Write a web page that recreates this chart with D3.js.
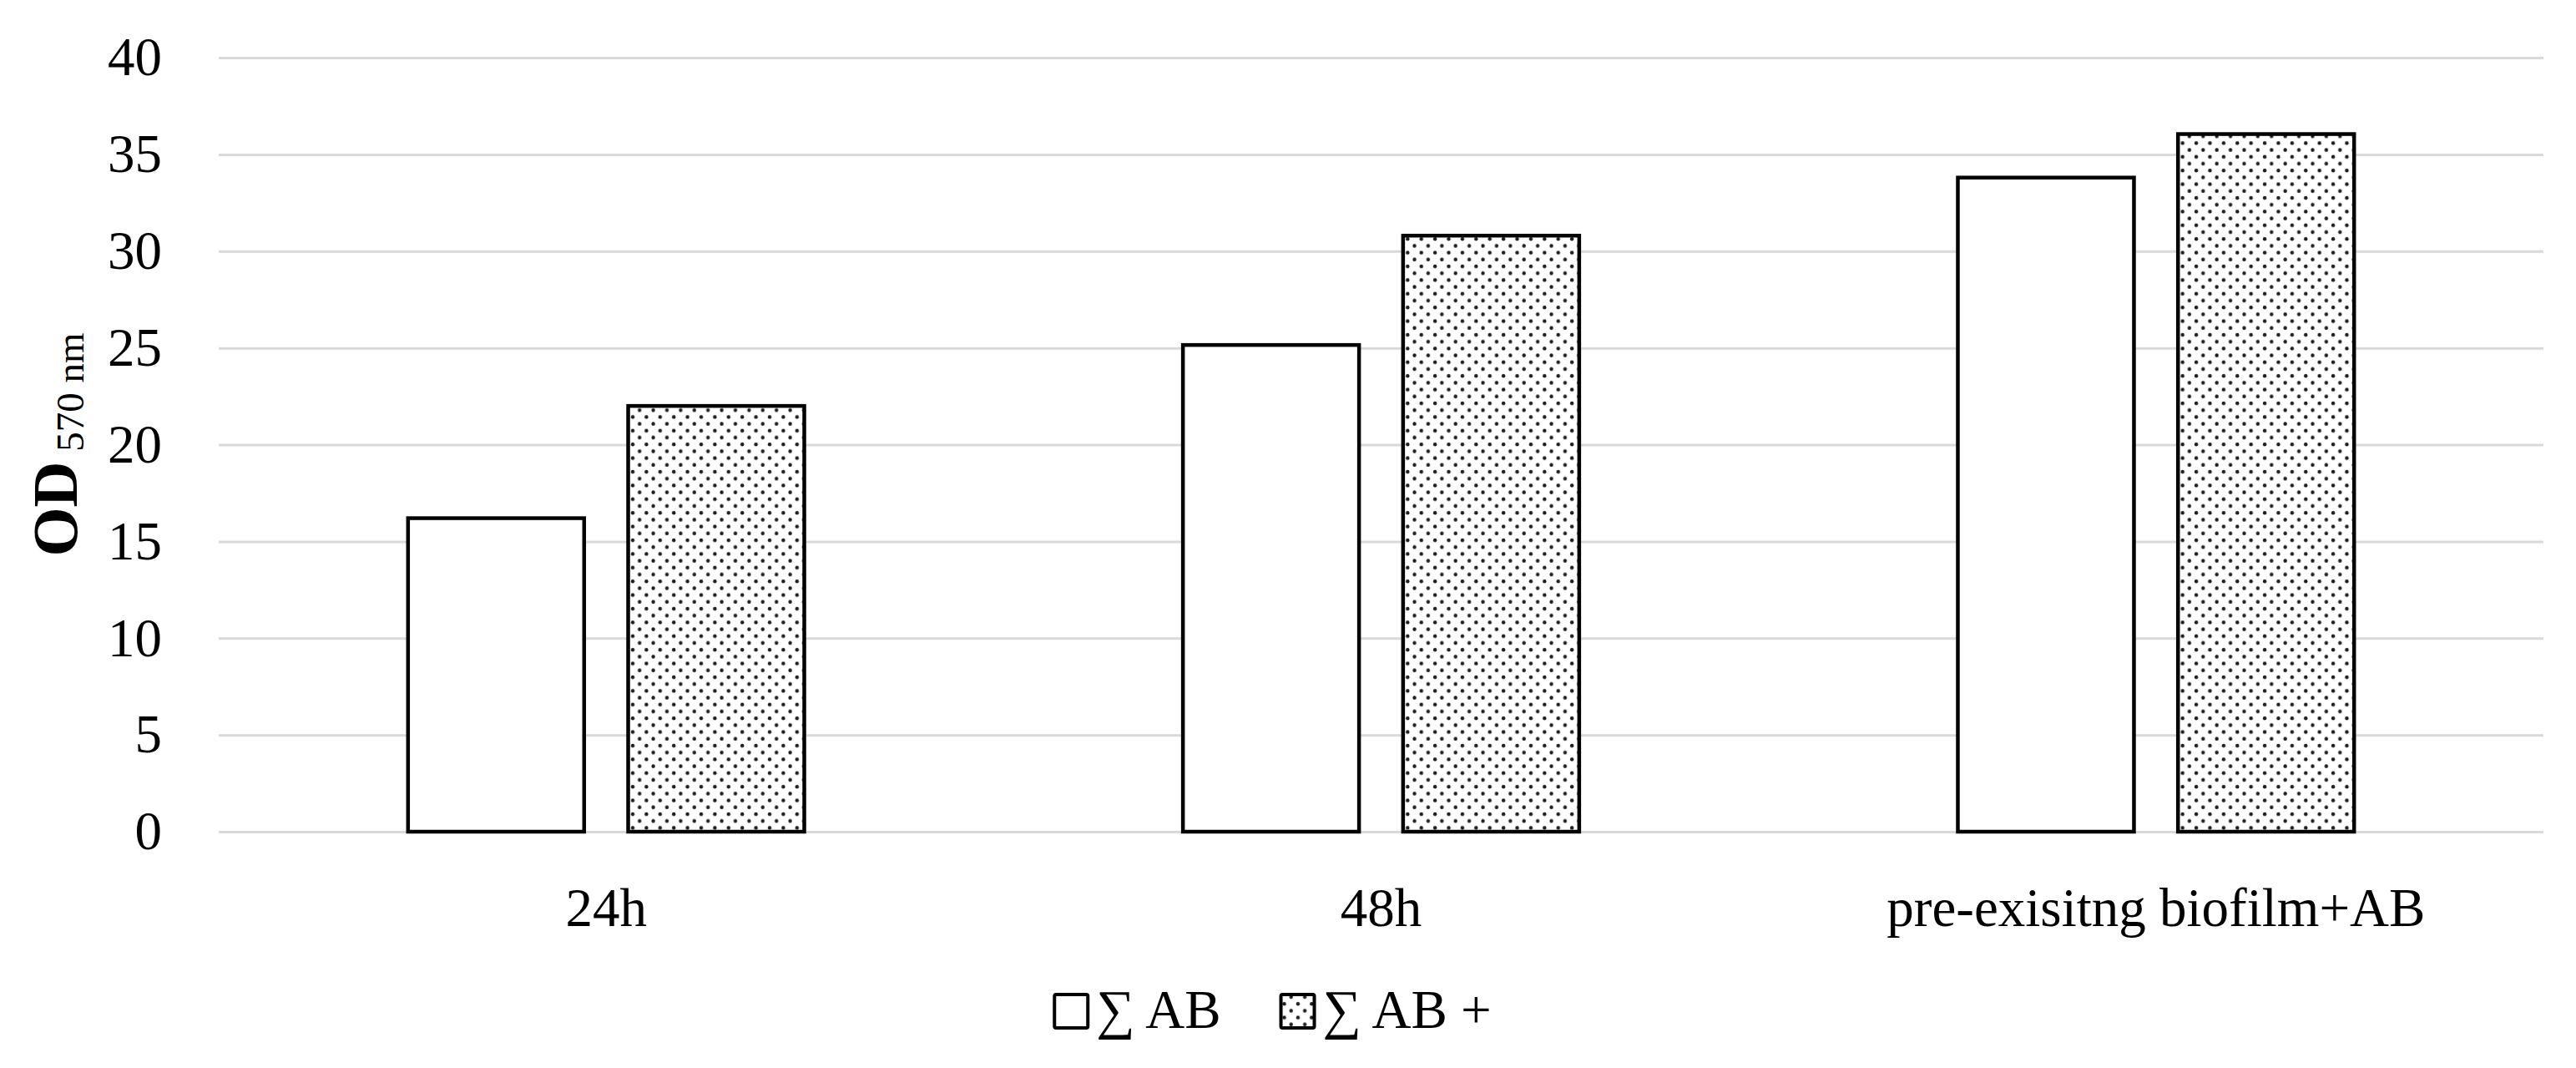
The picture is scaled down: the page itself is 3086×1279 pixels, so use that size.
<!DOCTYPE html>
<html>
<head>
<meta charset="utf-8">
<script src="https://cdn.jsdelivr.net/npm/d3@7"></script>
<style>
	body { margin: 0; background: #fff; }
	svg text { font-family: "Palatino Linotype", "Book Antiqua", Palatino, "Liberation Serif", serif; fill: #000; }
	.tick line { stroke: #d9d9d9; stroke-width: 3px; }
	.domain { display: none; }
</style>
</head>
<body>
<div id="graphic"></div>
<script>
// chart values
const categories = ['24h', '48h', 'pre-exisitng biofilm+AB'];
const seriesNames = ['∑ AB', '∑ AB +'];
const sumAB = [16.2, 25.15, 33.8];
const sumABplus = [22.0, 30.8, 36.05];
const yTicks = [0, 5, 10, 15, 20, 25, 30, 35, 40];
const yDomain = [0, 40];

let width = 3086, height = 1279;
let margin = { top: 69, right: 39, bottom: 283, left: 262 };
let chartWidth = width - margin.left - margin.right;
let chartHeight = height - margin.top - margin.bottom;
let fontSize = 65;

let graphicData = categories.map((c, i) => ({ name: c, values: [sumAB[i], sumABplus[i]] }));

let svg = d3.select('#graphic')
	.append('svg')
	.attr('width', width)
	.attr('height', height);

// dotted fill for the second series
let defs = svg.append('defs');
let pattern = defs.append('pattern')
	.attr('id', 'dots')
	.attr('patternUnits', 'userSpaceOnUse')
	.attr('width', 16.4)
	.attr('height', 16.4);
pattern.append('rect').attr('width', 16.4).attr('height', 16.4).attr('fill', '#fff');
pattern.append('circle').attr('cx', 4).attr('cy', 4).attr('r', 2.2).attr('fill', '#1e1e1e');
pattern.append('circle').attr('cx', 12.2).attr('cy', 12.2).attr('r', 2.2).attr('fill', '#1e1e1e');

const fills = ['#fff', 'url(#dots)'];

let chart = svg.append('g')
	.attr('transform', 'translate(' + margin.left + ',' + margin.top + ')');

//set up scales
const x0 = d3.scaleBand().domain(categories).range([0, chartWidth]);
const x1 = d3.scaleBand()
	.domain(d3.range(seriesNames.length))
	.range([0, x0.bandwidth()])
	.paddingInner(0.2)
	.paddingOuter(0.86);
const y = d3.scaleLinear().domain(yDomain).range([chartHeight, 0]);

// gridlines + y labels
chart.append('g')
	.attr('class', 'y axis')
	.call(d3.axisLeft(y).tickValues(yTicks).tickSize(-chartWidth).tickPadding(68))
	.selectAll('text')
	.attr('font-size', fontSize);

// category labels
chart.append('g')
	.attr('class', 'x axis')
	.attr('transform', 'translate(0,' + chartHeight + ')')
	.call(d3.axisBottom(x0).tickSize(0).tickPadding(67))
	.selectAll('text')
	.attr('font-size', fontSize);

// bars
chart.selectAll('g.group')
	.data(graphicData)
	.join('g')
	.attr('class', 'group')
	.attr('transform', (d) => 'translate(' + x0(d.name) + ',0)')
	.selectAll('rect')
	.data((d) => d.values.map((v, i) => ({ i: i, value: v })))
	.join('rect')
	.attr('x', (d) => x1(d.i))
	.attr('width', x1.bandwidth())
	.attr('y', (d) => y(d.value))
	.attr('height', (d) => y(0) - y(d.value))
	.attr('fill', (d) => fills[d.i])
	.attr('stroke', '#000')
	.attr('stroke-width', 4.5);

// y axis title: OD with subscript
let title = svg.append('text')
	.attr('transform', 'translate(92,' + (margin.top + chartHeight / 2) + ') rotate(-90)')
	.attr('text-anchor', 'middle');
title.append('tspan')
	.attr('font-size', 76)
	.attr('font-weight', 'bold')
	.text('OD');
title.append('tspan')
	.attr('font-size', 47)
	.attr('dy', 8)
	.text(' 570 nm');

// legend
let legend = svg.append('g').attr('class', 'legend');
let offset = 0;
seriesNames.forEach(function (name, i) {
	let item = legend.append('g').attr('transform', 'translate(' + offset + ',0)');
	item.append('rect')
		.attr('x', 0)
		.attr('y', -40)
		.attr('width', 40)
		.attr('height', 40)
		.attr('rx', 2)
		.attr('fill', fills[i])
		.attr('stroke', '#000')
		.attr('stroke-width', 4);
	let label = item.append('text')
		.attr('x', 50)
		.attr('y', 0)
		.attr('font-size', fontSize)
		.text(name);
	offset += 50 + label.node().getComputedTextLength() + 72;
});
let legendWidth = offset - 72;
legend.attr('transform', 'translate(' + (1525 - legendWidth / 2) + ',1231)');
</script>
</body>
</html>
